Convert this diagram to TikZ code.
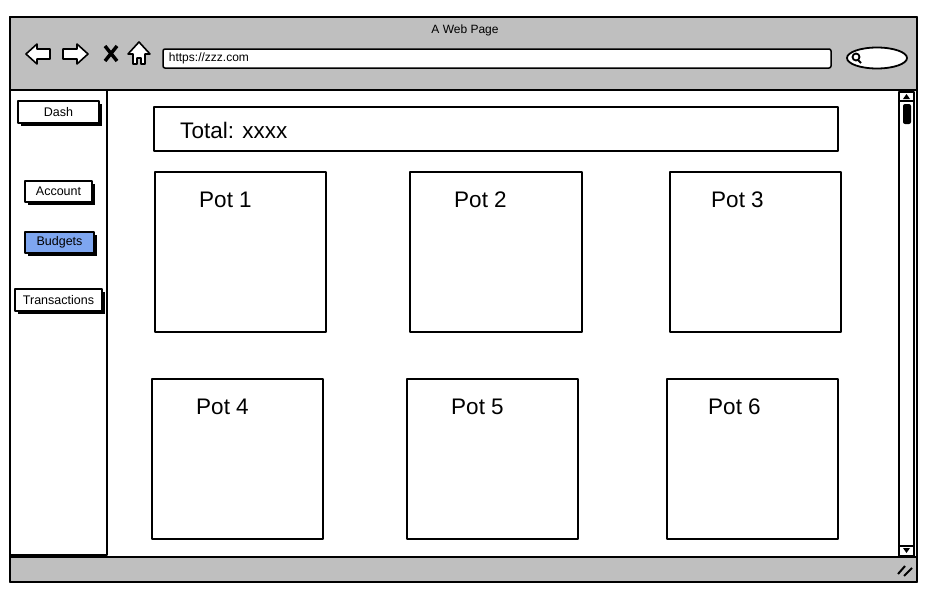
\documentclass[tikz,border=0pt]{standalone}
\usepackage{fontspec}
\setmainfont{Liberation Sans}
\begin{document}
\begin{tikzpicture}[x=1pt,y=-1pt,line width=1.8pt,line join=round,
  box/.style={draw=black,fill=white},
  btn/.style={draw=black,fill=white,line width=1.3pt,inner sep=0pt,minimum height=20pt,font=\fontsize{12.5}{13}\selectfont},
  shad/.style={fill=black},
  pot/.style={font=\fontsize{22.5}{25}\selectfont,anchor=west}]
\useasboundingbox (0,0) rectangle (937,597);
% window
\draw[fill=white] (10,17) rectangle (917,582);
\fill[gray!50] (10,17) rectangle (917,90);
\fill[gray!50] (10,557) rectangle (917,582);
\draw (10,17) rectangle (917,582);
\draw (10,90) -- (917,90);
\draw (10,557) -- (917,557);
\node (title) at (465,30) {\fontsize{12}{13}\selectfont A Web Page};
% nav icons
\draw[fill=white,line width=1.6pt] (26,54) -- (37,44) -- (37,49) -- (50,49) -- (50,59) -- (37,59) -- (37,64) -- cycle;
\draw[fill=white,line width=1.6pt] (88,54) -- (77,44) -- (77,49) -- (63,49) -- (63,59) -- (77,59) -- (77,64) -- cycle;
\draw[line width=3.5pt] (105,46) -- (117,61) (117,46) -- (105,61);
\draw[fill=white,line width=1.6pt] (139,42) -- (150,54) -- (145,54) -- (145,64) -- (141,64) -- (141,58) -- (137,58) -- (137,64) -- (133,64) -- (133,54) -- (128,54) -- cycle;
\draw[fill=white,line width=1.5pt,rounded corners=2pt] (163,49) rectangle (831,68);
\node[anchor=west,inner sep=0pt] (url) at (168,58) {\fontsize{12}{13}\selectfont https://zzz.com};
\draw[fill=white,line width=1.8pt] (877,58) ellipse (30 and 10.5);
\draw[line width=1.8pt] (856,57) circle (3.5) (858,60) -- (861,63);
% sidebar
\draw (10,90) rectangle (107,555);
% scrollbar
\draw[fill=white,line width=1.3pt] (899,92) rectangle (914,556);
\draw[line width=1.3pt] (899,101) -- (914,101) (899,546) -- (914,546);
\fill (906.5,94) -- (910,99) -- (903,99) -- cycle;
\fill (906.5,553) -- (910,548) -- (903,548) -- cycle;
\fill[rounded corners=2pt] (903,104) rectangle (911,124);
\draw[line width=2pt] (898,574) -- (905,566) (904,576) -- (912,568);
% buttons
\fill (21,104) rectangle (102,126);
\node[btn,minimum width=81pt,minimum height=22pt] (dash) at (58.5,112) {Dash};
\fill (28,184) rectangle (95,205);
\node[btn,minimum width=67pt,minimum height=21pt] (account) at (58.5,191.5) {Account};
\fill (28,235) rectangle (97,256);
\node[btn,fill={rgb,255:red,126;green,166;blue,240},minimum width=69pt,minimum height=21pt] (budgets) at (59.5,242.5) {Budgets};
\fill (18,292) rectangle (105,314);
\node[btn,minimum width=87pt,minimum height=22pt] (trans) at (58.5,300) {Transactions};
% total
\draw (154,107) rectangle (838,151);
\node[anchor=west] (total) at (176,130) {\fontsize{22.5}{25}\selectfont Total: xxxx};
% pots
\draw (155,172) rectangle (326,332); \node[pot] (p1) at (195,200) {Pot 1};
\draw (410,172) rectangle (582,332); \node[pot] (p2) at (450,200) {Pot 2};
\draw (670,172) rectangle (841,332); \node[pot] (p3) at (707,200) {Pot 3};
\draw (152,379) rectangle (323,539); \node[pot] (p4) at (192,407) {Pot 4};
\draw (407,379) rectangle (578,539); \node[pot] (p5) at (447,407) {Pot 5};
\draw (667,379) rectangle (838,539); \node[pot] (p6) at (704,407) {Pot 6};
\end{tikzpicture}
\end{document}
